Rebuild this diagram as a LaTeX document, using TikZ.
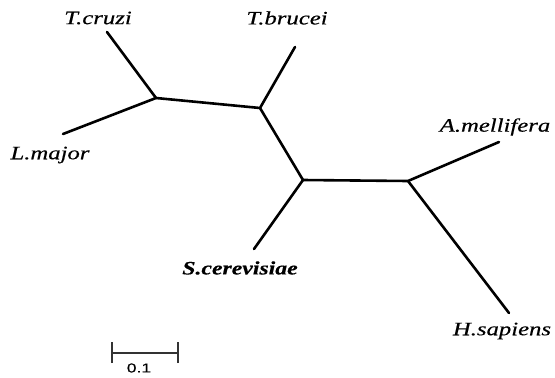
\documentclass[tikz,border=0pt]{standalone}
\usepackage{fontspec}
\setmainfont{Liberation Serif}
\setsansfont{Liberation Sans}
\newfontfamily\taxfont{Liberation Serif}[FakeBold=0.35]
\newfontfamily\barfont{Liberation Sans}[FakeBold=0.3]
\begin{document}
\begin{tikzpicture}[x=1pt,y=-1pt,
  branch/.style={line width=2.6pt,line cap=round,line join=round},
  taxon/.style={inner sep=0pt,font=\taxfont\fontsize{19}{22}\selectfont\itshape},
  scalebar/.style={line width=1.1pt,draw=black!80}]
\useasboundingbox (0,0) rectangle (555,378);
% internal nodes
\coordinate (na) at (156,98);
\coordinate (nb) at (260,108);
\coordinate (nc) at (303,180);
\coordinate (nd) at (408,181);
% leaf tips
\coordinate (tcruzi) at (107,32);
\coordinate (lmajor) at (63,134);
\coordinate (tbrucei) at (295,47);
\coordinate (scer) at (254,249);
\coordinate (amel) at (499,142);
\coordinate (hsap) at (509,313);
% branches
\draw[branch] (tcruzi) -- (na) -- (lmajor);
\draw[branch] (na) -- (nb) -- (tbrucei);
\draw[branch] (nb) -- (nc) -- (scer);
\draw[branch] (nc) -- (nd) -- (amel);
\draw[branch] (nd) -- (hsap);
% taxon labels
\node[taxon] (ltcruzi) at (98,18) {\scalebox{1.3}[1]{T.cruzi}};
\node[taxon] (ltbrucei) at (287,18) {\scalebox{1.3}[1]{T.brucei}};
\node[taxon] (llmajor) at (50,155) {\scalebox{1.3}[1]{L.major}};
\node[taxon] (lamel) at (495,127) {\scalebox{1.3}[1]{A.mellifera}};
\node[taxon,font=\taxfont\fontsize{19}{22}\selectfont\bfseries\itshape] (lscer) at (240,268) {\scalebox{1.25}[1]{S.cerevisiae}};
\node[taxon] (lhsap) at (502,331) {\scalebox{1.3}[1]{H.sapiens}};
% scale bar
\coordinate (sbl) at (112,353);
\coordinate (sbr) at (178,353);
\draw[scalebar] (sbl) -- (sbr);
\draw[scalebar] ([yshift=-10pt]sbl) -- ([yshift=11pt]sbl);
\draw[scalebar] ([yshift=-10pt]sbr) -- ([yshift=11pt]sbr);
\node[inner sep=0pt,font=\barfont\fontsize{13}{15}\selectfont] (sblabel) at (139,368) {\scalebox{1.35}[1]{0.1}};
\end{tikzpicture}
\end{document}
